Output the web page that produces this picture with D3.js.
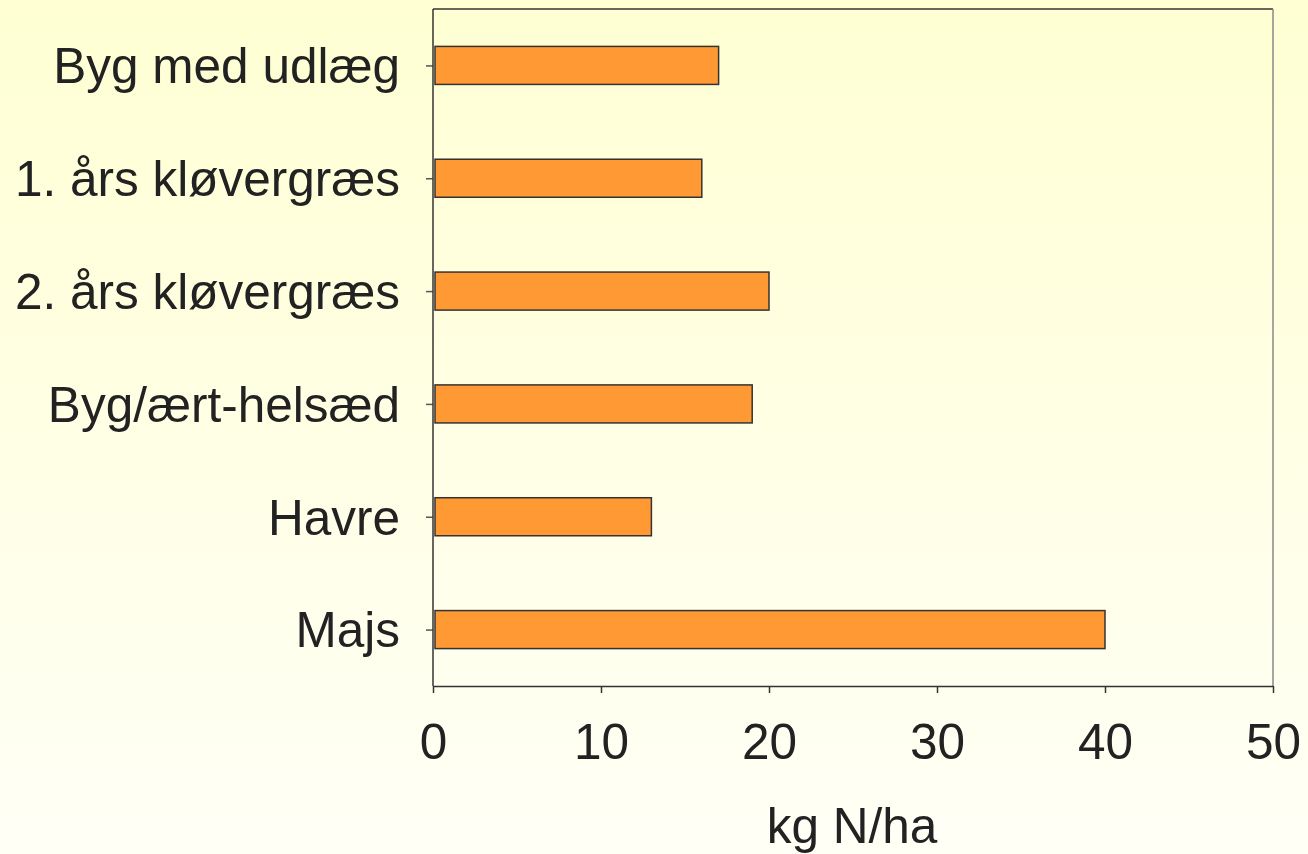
<!DOCTYPE html>
<html><head><meta charset="utf-8">
<script src="https://cdn.jsdelivr.net/npm/d3@7"></script>
<style>html,body{margin:0;padding:0;overflow:hidden}</style>
</head><body>
<svg id="c" width="1308" height="854"></svg>
<script>
const categories = ["Byg med udlæg","1. års kløvergræs","2. års kløvergræs","Byg/ært-helsæd","Havre","Majs"];
const values = [17,16,20,19,13,40];
const xTicks = [0,10,20,30,40,50];
const xTitle = "kg N/ha";

const W=1308,H=854;
const svg=d3.select("#c");
const defs=svg.append("defs");
const g=defs.append("linearGradient").attr("id","bg").attr("x1",0).attr("y1",0).attr("x2",0).attr("y2",1);
g.append("stop").attr("offset","0%").attr("stop-color","#ffffd3");
g.append("stop").attr("offset","100%").attr("stop-color","#fffff6");
svg.append("rect").attr("width",W).attr("height",H).attr("fill","url(#bg)");

const m={l:433,t:9,r:1273,b:686};
const x=d3.scaleLinear().domain([0,50]).range([m.l,m.r]);
const y=d3.scaleBand().domain(categories).range([m.t,m.b]).paddingInner(0.663).paddingOuter(0.3315);

// plot frame
svg.append("line").attr("x1",m.l).attr("x2",m.r).attr("y1",m.t).attr("y2",m.t).attr("stroke","#333").attr("stroke-width",1.5);
svg.append("line").attr("x1",m.r).attr("x2",m.r).attr("y1",m.t).attr("y2",m.b).attr("stroke","#888").attr("stroke-width",1.5);

// bars
svg.append("g").selectAll("rect").data(values).join("rect")
  .attr("x",x(0)+2).attr("y",(d,i)=>y(categories[i]))
  .attr("width",d=>x(d)-x(0)-2).attr("height",y.bandwidth())
  .attr("fill","#ff9933").attr("stroke","#333").attr("stroke-width",1.5);

const font="'Liberation Sans', Arial, sans-serif";
const fs=49.5;
// y axis
const ya=svg.append("g").attr("transform",`translate(${m.l},0)`)
  .call(d3.axisLeft(d3.scalePoint().domain(categories).range([y(categories[0])+y.bandwidth()/2,y(categories[5])+y.bandwidth()/2])).tickSizeOuter(0).tickSize(7).tickPadding(26));
ya.select(".domain").remove();
ya.append("line").attr("x1",0).attr("x2",0).attr("y1",m.t).attr("y2",m.b).attr("stroke","#333").attr("stroke-width",1.5);
ya.selectAll(".tick line").attr("stroke","#555").attr("stroke-width",1.5);
ya.selectAll("text").attr("font-family",font).attr("font-size",fs).attr("fill","#222").attr("dy","0.35em");

// x axis
const xa=svg.append("g").attr("transform",`translate(0,${m.b})`)
  .call(d3.axisBottom(x).tickValues(xTicks).tickSize(7).tickSizeOuter(0).tickPadding(31));
xa.select(".domain").attr("stroke","#333").attr("stroke-width",1.5);
xa.selectAll(".tick line").attr("stroke","#333").attr("stroke-width",1.5);
xa.selectAll("text").attr("font-family",font).attr("font-size",fs).attr("fill","#222");

svg.append("text").attr("x",852).attr("y",843).attr("text-anchor","middle")
  .attr("font-family",font).attr("font-size",fs).attr("fill","#222").text(xTitle);
</script>
</body></html>
